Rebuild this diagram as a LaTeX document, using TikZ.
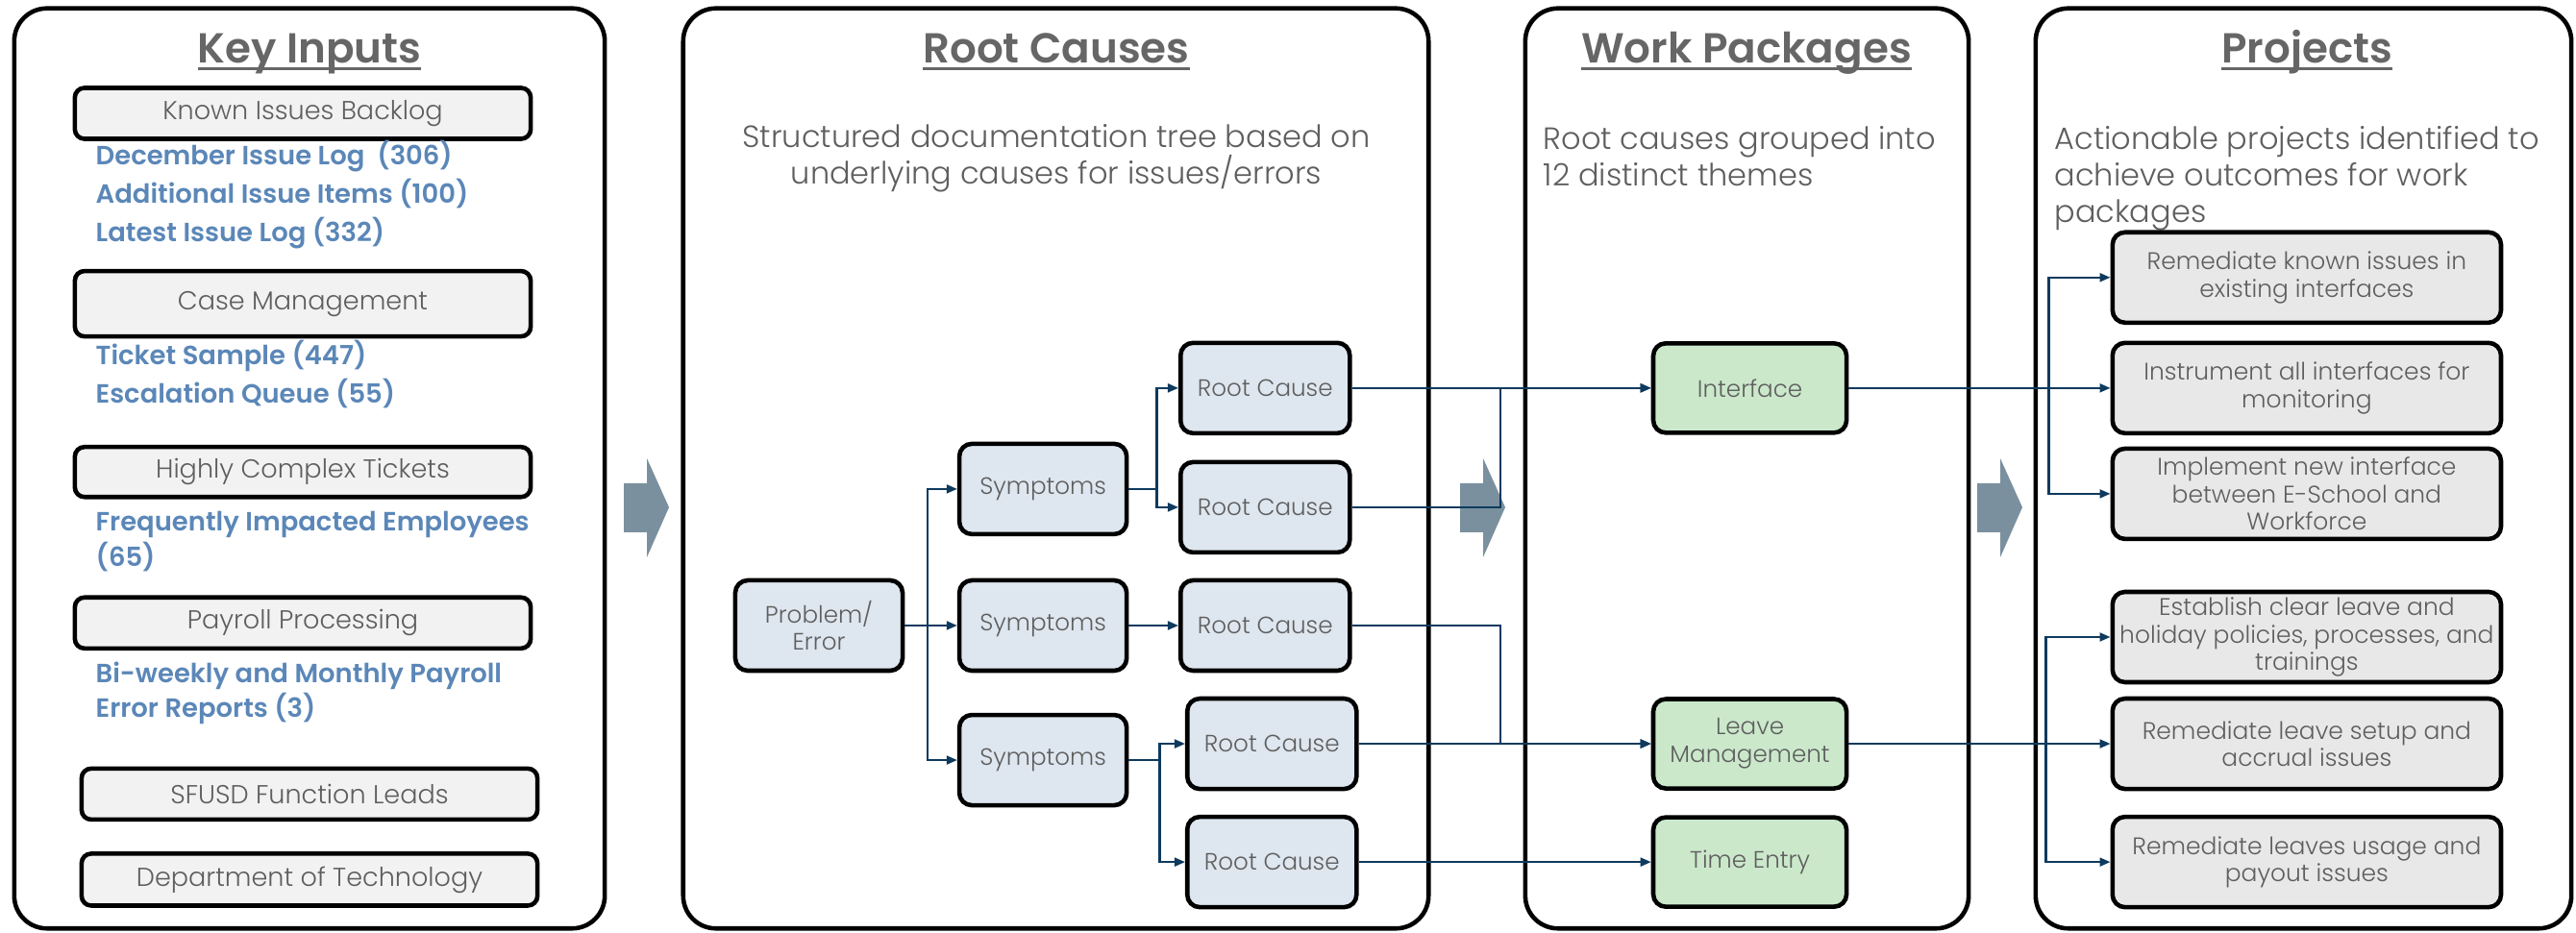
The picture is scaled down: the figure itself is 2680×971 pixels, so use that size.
\documentclass[tikz,border=0pt]{standalone}
\usepackage{fontspec}
\setmainfont{Poppins}[UprightFont=* Light, BoldFont=* SemiBold]
\usepackage{xcolor}
\usepackage{tikz}
\usetikzlibrary{positioning}
\usetikzlibrary{arrows.meta}

\definecolor{titlegray}{HTML}{666666}
\definecolor{textgray}{HTML}{5E5E5E}
\definecolor{sourceblue}{HTML}{5B87B8}
\definecolor{inputfill}{HTML}{F2F2F2}
\definecolor{treefill}{HTML}{DEE6EF}
\definecolor{wpfill}{HTML}{CBE8CB}
\definecolor{projfill}{HTML}{E8E8E8}
\definecolor{linknavy}{HTML}{0E3A5E}
\definecolor{arrowgray}{HTML}{7A909E}

\newcommand{\headline}[1]{\sbox0{#1}\rlap{\rule[-1.9pt]{\wd0}{0.75pt}}\usebox0}

\tikzset{
  panel/.style={draw=black, line width=1.3pt, rounded corners=0.34cm, minimum height=9.57cm, inner sep=0pt},
  paneltitle/.style={anchor=base, inner sep=0pt, text=titlegray, font=\bfseries\fontsize{12.4}{14}\selectfont},
  blurb/.style={anchor=north, inner sep=0pt, text=textgray, font=\fontsize{9.1}{10.8}\selectfont},
  inputbox/.style={draw=black, line width=1.3pt, fill=inputfill, rounded corners=0.1cm, minimum width=4.74cm, minimum height=0.53cm, inner sep=0pt, text=textgray, font=\fontsize{7.7}{9}\selectfont},
  source/.style={anchor=base west, inner sep=0pt, align=left, text=sourceblue, font=\bfseries\fontsize{7.8}{9.2}\selectfont},
  causebox/.style={draw=black, line width=1.3pt, fill=treefill, rounded corners=0.13cm, minimum width=1.74cm, minimum height=0.94cm, inner sep=0pt, align=center, text=textgray, font=\fontsize{7}{8}\selectfont},
  packagebox/.style={causebox, fill=wpfill, minimum width=2.01cm, minimum height=0.93cm, font=\fontsize{7}{8.3}\selectfont},
  projectbox/.style={causebox, fill=projfill, minimum width=4.04cm, font=\fontsize{7.1}{8.1}\selectfont},
  link/.style={draw=linknavy, line width=0.6pt, -{Triangle[length=1.1mm, width=0.9mm]}},
}

\begin{document}
\begin{tikzpicture}[x=0.01cm, y=-0.01cm, on grid]
    \useasboundingbox (0,0) rectangle (2680,971);

    %Panels
    \node[panel, minimum width=6.14cm] (inputsPanel) at (322,487.5) {};
    \node[panel, minimum width=7.75cm] (causesPanel) at (1098.5,487.5) {};
    \node[panel, minimum width=4.61cm] (packagesPanel) at (1817.5,487.5) {};
    \node[panel, minimum width=5.57cm] (projectsPanel) at (2396.5,487.5) {};

    \node[paneltitle] (inputsTitle) at (322,66) {\headline{Key Inputs}};
    \node[paneltitle] (causesTitle) at (1099,66) {\headline{Root Causes}};
    \node[paneltitle] (packagesTitle) at (1817,66) {\headline{Work Packages}};
    \node[paneltitle] (projectsTitle) at (2400,66) {\headline{Projects}};

    \node[blurb, align=center] (causesBlurb) at (1099,129) {Structured documentation tree based on\\underlying causes for issues/errors};
    \node[blurb, anchor=north west, align=left] (packagesBlurb) at (1605,131) {Root causes grouped into\\12 distinct themes};
    \node[blurb, anchor=north west, align=left] (projectsBlurb) at (2137,131) {Actionable projects identified to\\achieve outcomes for work\\packages};

    %Big arrows between panels
    \foreach \ax in {649,1519,2057}
        \fill[arrowgray] (\ax,503) -- ++(24,0) -- ++(0,-26) -- ++(23,51) -- ++(-23,52) -- ++(0,-26) -- ++(-24,0) -- cycle;

    %-------------------------------------------
    %Key inputs

    \node[inputbox] (backlog) at (315,118) {Known Issues Backlog};
    \node[inputbox, minimum height=0.68cm, below = 1.98cm of backlog] (caseMgmt) {Case Management};
    \node[inputbox, minimum height=0.52cm, below = 1.75cm of caseMgmt] (complexTix) {Highly Complex Tickets};
    \node[inputbox, below = 1.57cm of complexTix] (payroll) {Payroll Processing};
    \node[inputbox, below right = 1.78cm and 0.07cm of payroll] (leads) {SFUSD Function Leads};
    \node[inputbox, minimum height=0.54cm, below = 0.89cm of leads] (tech) {Department of Technology};

    \node[source] (decLog) at (99,172) {December Issue Log\ \ (306)};
    \node[source] (addItems) at (99,212) {Additional Issue Items (100)};
    \node[source] (latestLog) at (99,252) {Latest Issue Log (332)};
    \node[source] (ticketSample) at (99,380) {Ticket Sample (447)};
    \node[source] (escQueue) at (99,420) {Escalation Queue (55)};
    \node[source, anchor=north west] (freqEmp) at (99,532) {Frequently Impacted Employees\\(65)};
    \node[source, anchor=north west] (payReports) at (99,688) {Bi-weekly and Monthly Payroll\\Error Reports (3)};

    %-------------------------------------------
    %Root cause tree

    \node[causebox] (problem) at (852,651) {Problem/\\Error};

    \node[causebox, right = 2.33cm of problem] (sympB) {Symptoms};
    \node[causebox, above = 1.42cm of sympB] (sympA) {Symptoms};
    \node[causebox, below = 1.40cm of sympB] (sympC) {Symptoms};

    \node[causebox, minimum width=1.76cm, above right = 2.47cm and 2.31cm of sympB] (causeA) {Root Cause};
    \node[causebox, minimum width=1.76cm, above right = 1.23cm and 2.31cm of sympB] (causeB) {Root Cause};
    \node[causebox, minimum width=1.76cm, right = 2.31cm of sympB] (causeC) {Root Cause};
    \node[causebox, minimum width=1.76cm, above right = 0.17cm and 2.38cm of sympC] (causeD) {Root Cause};
    \node[causebox, minimum width=1.76cm, below right = 1.06cm and 2.38cm of sympC] (causeE) {Root Cause};

    %-------------------------------------------
    %Work packages and projects

    \node[packagebox, right = 5.04cm of causeA] (iface) {Interface};
    \node[packagebox, right = 4.97cm of causeD] (leave) {Leave\\Management};
    \node[packagebox, right = 4.97cm of causeE] (timeEntry) {Time Entry};

    \node[projectbox, right = 5.79cm of iface] (projB) {Instrument all interfaces for\\monitoring};
    \node[projectbox, above = 1.15cm of projB] (projA) {Remediate known issues in\\existing interfaces};
    \node[projectbox, below = 1.10cm of projB] (projC) {Implement new interface\\between E-School and\\Workforce};

    \node[projectbox, right = 5.79cm of leave] (projE) {Remediate leave setup and\\accrual issues};
    \node[projectbox, above = 1.11cm of projE] (projD) {Establish clear leave and\\holiday policies, processes, and\\trainings};
    \node[projectbox, below = 1.23cm of projE] (projF) {Remediate leaves usage and\\payout issues};

    %-------------------------------------------
    %Connectors

    \draw[link] (problem.east) -- ++(24,0) |- (sympA.west);
    \draw[link] (problem.east) -- (sympB.west);
    \draw[link] (problem.east) -- ++(24,0) |- (sympC.west);

    \draw[link] (sympA.east) -- ++(29,0) |- (causeA.west);
    \draw[link] (sympA.east) -- ++(29,0) |- (causeB.west);
    \draw[link] (sympB.east) -- (causeC.west);
    \draw[link] (sympC.east) -- ++(32,0) |- (causeD.west);
    \draw[link] (sympC.east) -- ++(32,0) |- (causeE.west);

    \draw[link] (causeA.east) -- (iface.west);
    \draw[link] (causeB.east) -| ([xshift=-1.57cm]iface.west) -- (iface.west);
    \draw[link] (causeC.east) -| ([xshift=-1.57cm]leave.west) -- (leave.west);
    \draw[link] (causeD.east) -- (leave.west);
    \draw[link] (causeE.east) -- (timeEntry.west);

    \draw[link] (iface.east) -- (projB.west);
    \draw[link] ([xshift=-0.64cm]projB.west) |- (projA.west);
    \draw[link] ([xshift=-0.64cm]projB.west) |- (projC.west);
    \draw[link] (leave.east) -- (projE.west);
    \draw[link] ([xshift=-0.67cm]projE.west) |- (projD.west);
    \draw[link] ([xshift=-0.67cm]projE.west) |- (projF.west);

\end{tikzpicture}
\end{document}
